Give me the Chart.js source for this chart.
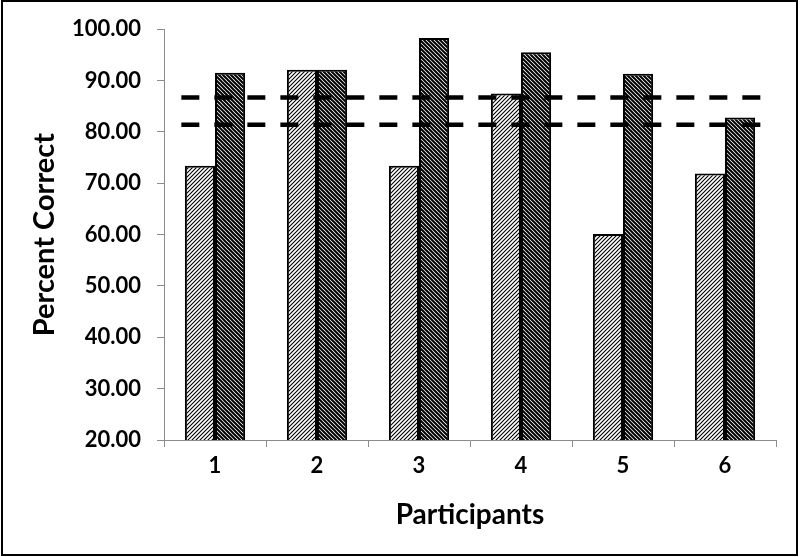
<!DOCTYPE html>
<html>
<head>
<meta charset="utf-8">
<script src="https://cdn.jsdelivr.net/npm/chart.js@4/dist/chart.umd.min.js"></script>
<style>
html,body{margin:0;padding:0;background:#fff;}
#wrap{width:800px;height:557px;position:relative;}
</style>
</head>
<body>
<div id="wrap"><canvas id="c" width="800" height="557"></canvas></div>
<script>
const categories = [1, 2, 3, 4, 5, 6];
const seriesA = [73.4, 92.1, 73.4, 87.5, 60.1, 71.9];
const seriesB = [91.5, 92.1, 98.3, 95.5, 91.3, 82.8];
const refLineHigh = 86.7;
const refLineLow = 81.4;
const refLineStart = 0.67;
const refLineEnd = 6.4;
const yTicks = [20, 30, 40, 50, 60, 70, 80, 90, 100];

function hatch(dir, lw) {
  const s = 8;
  const c = document.createElement('canvas');
  c.width = s; c.height = s;
  const g = c.getContext('2d');
  g.fillStyle = '#fff';
  g.fillRect(0, 0, s, s);
  g.strokeStyle = '#000';
  g.lineWidth = lw;
  g.beginPath();
  for (let k = -2; k <= 2; k++) {
    const o = k * s;
    if (dir === '/') {
      g.moveTo(o - 1, s + 1); g.lineTo(o + s + 1, -1);
      g.moveTo(o + s/2 - 1, s + 1); g.lineTo(o + s/2 + s + 1, -1);
    } else {
      g.moveTo(o - 1, -1); g.lineTo(o + s + 1, s + 1);
      g.moveTo(o + s/2 - 1, -1); g.lineTo(o + s/2 + s + 1, s + 1);
    }
  }
  g.stroke();
  return g.createPattern(c, 'repeat');
}

const ctx = document.getElementById('c').getContext('2d');
const patA = hatch('/', 1.1);
const patB = hatch('\\', 2.0);

const frame = {
  id: 'frame',
  afterDraw(chart) {
    const g = chart.ctx;
    g.save();
    g.strokeStyle = '#000';
    g.lineWidth = 2;
    g.strokeRect(2, 1, 795, 554);
    g.restore();
  }
};

const font = 'Lato, "Open Sans", sans-serif';
const toPoints = (vals) => categories.map((c, i) => ({ x: c, y: vals[i] }));

new Chart(ctx, {
  type: 'bar',
  data: {
    datasets: [
      {
        type: 'bar', data: toPoints(seriesA), backgroundColor: patA,
        borderColor: '#000', borderWidth: 2, borderSkipped: false,
        categoryPercentage: 0.59, barPercentage: 1.0, order: 2
      },
      {
        type: 'bar', data: toPoints(seriesB), backgroundColor: patB,
        borderColor: '#000', borderWidth: 2, borderSkipped: false,
        categoryPercentage: 0.59, barPercentage: 1.0, order: 2
      },
      {
        type: 'line',
        data: [{x: refLineStart, y: refLineHigh}, {x: refLineEnd, y: refLineHigh}],
        borderColor: '#000', borderWidth: 4.5, borderDash: [18, 15],
        pointRadius: 0, fill: false, order: 1
      },
      {
        type: 'line',
        data: [{x: refLineStart, y: refLineLow}, {x: refLineEnd, y: refLineLow}],
        borderColor: '#000', borderWidth: 4.5, borderDash: [18, 15],
        pointRadius: 0, fill: false, order: 1
      }
    ]
  },
  options: {
    responsive: false,
    animation: false,
    parsing: true,
    layout: { padding: { left: 4, top: 25, right: 24, bottom: 4 } },
    plugins: { legend: { display: false }, tooltip: { enabled: false } },
    scales: {
      x: {
        type: 'linear',
        position: 'bottom',
        min: 0.5, max: 6.5,
        offset: false,
        afterBuildTicks(s) { s.ticks = categories.map(v => ({ value: v })); },
        grid: { display: true, drawOnChartArea: false, offset: true, tickLength: 7, color: '#8c8c8c', lineWidth: 1 },
        border: { color: '#8c8c8c', width: 1 },
        ticks: { color: '#000', font: { family: font, size: 22, weight: 'bold' }, padding: 6,
                 callback: v => String(v) },
        title: { display: true, text: 'Participants', color: '#000', font: { family: font, size: 28, weight: 'bold' }, padding: { top: 4, bottom: 21 } },
        afterFit(s) { s.height = 113; }
      },
      y: {
        min: 20, max: 100,
        afterBuildTicks(s) { s.ticks = yTicks.map(v => ({ value: v })); },
        grid: { display: true, drawOnChartArea: false, tickLength: 7, color: '#8c8c8c', lineWidth: 1 },
        border: { color: '#8c8c8c', width: 1 },
        ticks: { color: '#000', font: { family: font, size: 22, weight: 'bold' }, padding: 16,
                 callback: v => Number(v).toFixed(2) },
        title: { display: true, text: 'Percent Correct', color: '#000', font: { family: font, size: 29, weight: 'bold' }, padding: { top: 23, bottom: 4 } },
        afterFit(s) { s.width = 160; }
      }
    }
  },
  plugins: [frame]
});
</script>
</body>
</html>
